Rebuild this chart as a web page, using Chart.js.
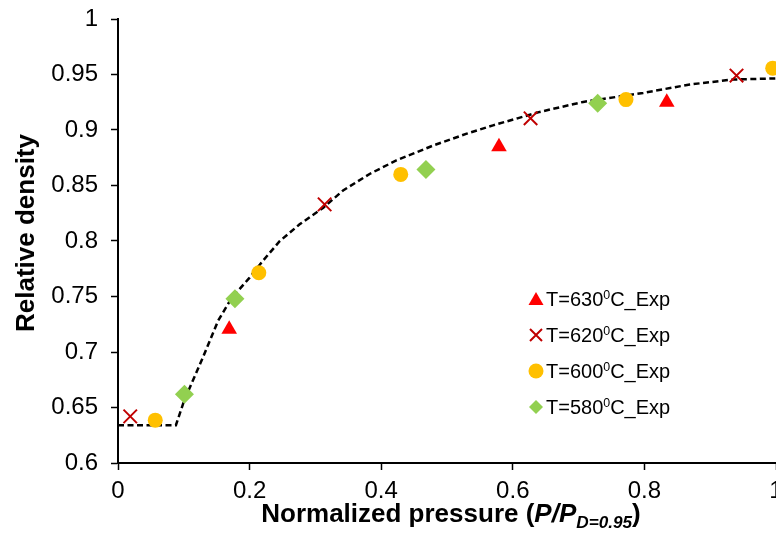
<!DOCTYPE html>
<html>
<head>
<meta charset="utf-8">
<script src="https://cdn.jsdelivr.net/npm/chart.js@4/dist/chart.umd.min.js"></script>
<style>
  html, body { margin: 0; padding: 0; background: #fff; }
  #wrap { position: relative; width: 776px; height: 534px; overflow: hidden; background: #fff;
          font-family: "Liberation Sans", Arial, sans-serif; color: #000; }
  #c { position: absolute; left: 0; top: 0; }
  .ytitle { position: absolute; left: 25px; top: 233px; white-space: nowrap; font-weight: bold; font-size: 26px;
            line-height: 26px; transform: translate(-50%, -50%) rotate(-90deg); }
  .xtitle { position: absolute; left: 451px; top: 500px; white-space: nowrap; font-weight: bold; font-size: 26px;
            line-height: 26px; transform: translateX(-50%); }
  .xtitle i { font-style: italic; }
  .xtitle sub { font-size: 0.66em; vertical-align: -0.35em; font-style: italic; }
  .leg { position: absolute; left: 528px; height: 20px; white-space: nowrap; font-size: 20px; line-height: 20px; }
  .leg svg { position: absolute; left: 0; top: 2px; }
  .leg span { position: absolute; left: 18px; top: 0; }
  .leg sup { font-size: 0.62em; vertical-align: 0.55em; line-height: 0; }
</style>
</head>
<body>
<div id="wrap">
  <canvas id="c" width="790" height="534"></canvas>
  <div class="ytitle">Relative density</div>
  <div class="xtitle">Normalized pressure (<i>P/P</i><sub>D=0.95</sub>)</div>
  <div id="legend"></div>
</div>
<script>
// ---- data ----
const curveX = [0, 0.088, 0.101, 0.129, 0.152, 0.172, 0.2, 0.22, 0.246, 0.276, 0.312, 0.342, 0.383, 0.423, 0.479, 0.53, 0.57, 0.607, 0.641, 0.707, 0.798, 0.869, 0.935, 1.0];
const curveY = [0.634, 0.634, 0.657, 0.695, 0.728, 0.748, 0.767, 0.782, 0.800, 0.815, 0.830, 0.8455, 0.8606, 0.8726, 0.886, 0.8967, 0.9042, 0.9105, 0.9163, 0.9253, 0.9334, 0.941, 0.9455, 0.9465];

const t630X = [0.169, 0.579, 0.834];
const t630Y = [0.7206, 0.885, 0.925];
const t620X = [0.0186, 0.314, 0.627, 0.940];
const t620Y = [0.642, 0.833, 0.9105, 0.949];
const t600X = [0.0566, 0.214, 0.4297, 0.772, 0.995];
const t600Y = [0.6386, 0.7714, 0.860, 0.9274, 0.9557];
const t580X = [0.101, 0.1777, 0.468, 0.729];
const t580Y = [0.662, 0.748, 0.8645, 0.924];

const seriesNames = ['T=630', 'T=620', 'T=600', 'T=580'];
const xTicks = [0, 0.2, 0.4, 0.6, 0.8, 1];
const yTicks = [0.6, 0.65, 0.7, 0.75, 0.8, 0.85, 0.9, 0.95, 1];

const pts = (xs, ys) => xs.map((x, i) => ({ x: x, y: ys[i] }));

const styles = [
  { color: '#FF0000', pointStyle: 'triangle', radius: 9, bw: 0 },
  { color: '#C00000', pointStyle: 'crossRot', radius: 9.5, bw: 2 },
  { color: '#FFC000', pointStyle: 'circle', radius: 7.5, bw: 0 },
  { color: '#92D050', pointStyle: 'rectRot', radius: 9.5, bw: 0 }
];
const seriesData = [pts(t630X, t630Y), pts(t620X, t620Y), pts(t600X, t600Y), pts(t580X, t580Y)];

const datasets = seriesData.map((d, i) => ({
  label: seriesNames[i] + '\u2070C_Exp',
  data: d,
  showLine: false,
  pointStyle: styles[i].pointStyle,
  pointRadius: styles[i].radius,
  pointHoverRadius: styles[i].radius,
  pointBackgroundColor: styles[i].color,
  pointBorderColor: styles[i].color,
  pointBorderWidth: styles[i].bw,
  borderColor: styles[i].color,
  backgroundColor: styles[i].color,
  order: 1,
  clip: false
}));
datasets.push({
  label: 'Model',
  data: pts(curveX, curveY),
  showLine: true,
  borderColor: '#000',
  borderWidth: 2.5,
  borderDash: [6, 3.5],
  pointRadius: 0,
  tension: 0,
  fill: false,
  order: 5
});

const tickFont = { family: '"Liberation Sans", Arial, sans-serif', size: 24 };
const fmt = v => String(Number(v.toFixed(2)));

new Chart(document.getElementById('c'), {
  type: 'scatter',
  data: { datasets: datasets },
  options: {
    responsive: false,
    animation: false,
    events: [],
    layout: { padding: { top: 19, right: 14, left: 0, bottom: 0 } },
    plugins: { legend: { display: false }, tooltip: { enabled: false } },
    scales: {
      x: {
        type: 'linear', min: 0, max: 1,
        afterBuildTicks: s => { s.ticks = xTicks.map(v => ({ value: v })); },
        afterFit: s => { s.height = 71; s.paddingLeft = 0; s.paddingRight = 0; },
        ticks: { font: tickFont, color: '#000', padding: 7, maxRotation: 0, callback: v => fmt(v) },
        grid: { drawOnChartArea: false, drawTicks: true, tickLength: 7, tickColor: '#000', tickWidth: 1.5 },
        border: { display: true, color: '#000', width: 2 }
      },
      y: {
        type: 'linear', min: 0.6, max: 1,
        afterBuildTicks: s => { s.ticks = yTicks.map(v => ({ value: v })); },
        afterFit: s => { s.width = 118; s.paddingTop = 0; s.paddingBottom = 0; },
        ticks: { font: tickFont, color: '#000', padding: 13, callback: v => fmt(v) },
        grid: { drawOnChartArea: false, drawTicks: true, tickLength: 7, tickColor: '#000', tickWidth: 1.5 },
        border: { display: true, color: '#000', width: 2 }
      }
    }
  }
});

// ---- HTML legend (inside the plot, lower right) ----
const legendTops = [289, 325, 361, 397];
const markerSvg = [
  '<svg width="16" height="16"><polygon points="8,1 15.5,14 0.5,14" fill="#FF0000"/></svg>',
  '<svg width="16" height="16"><path d="M2,2 L14,14 M14,2 L2,14" stroke="#C00000" stroke-width="2"/></svg>',
  '<svg width="16" height="16"><circle cx="8" cy="8" r="7.5" fill="#FFC000"/></svg>',
  '<svg width="16" height="16"><polygon points="8,1 15,8 8,15 1,8" fill="#92D050"/></svg>'
];
const legendEl = document.getElementById('legend');
seriesNames.forEach((n, i) => {
  const d = document.createElement('div');
  d.className = 'leg';
  d.style.top = legendTops[i] + 'px';
  d.innerHTML = markerSvg[i] + '<span>' + n + '<sup>0</sup>C_Exp</span>';
  legendEl.appendChild(d);
});
</script>
</body>
</html>
